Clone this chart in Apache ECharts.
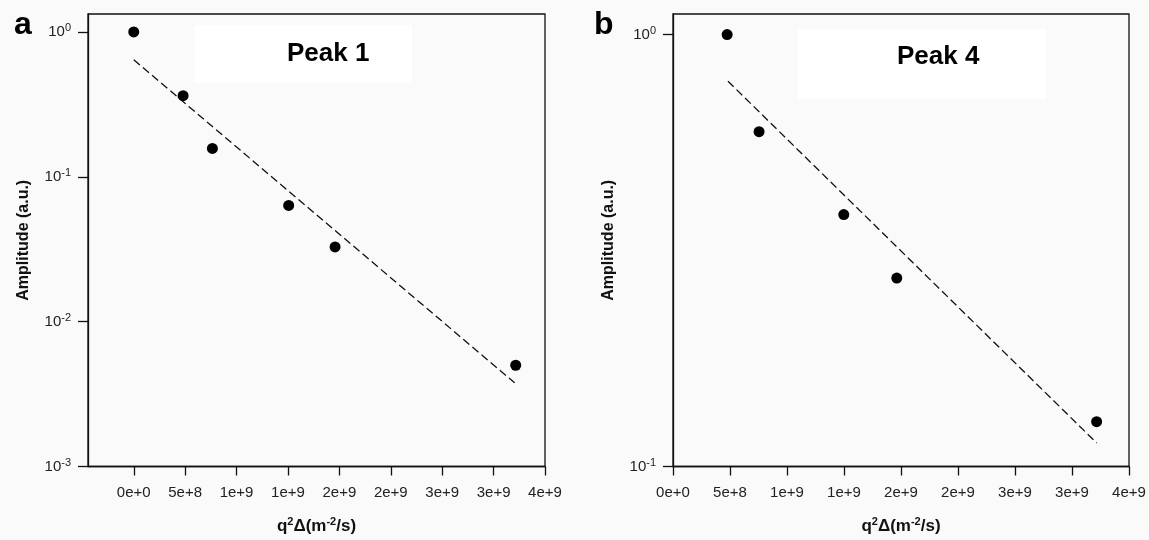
<!DOCTYPE html>
<html>
<head>
<meta charset="utf-8">
<script src="https://cdn.jsdelivr.net/npm/echarts@6/dist/echarts.min.js"></script>
<style>
  html, body { margin: 0; padding: 0; background: #fafafa; }
  #chart { width: 1149px; height: 540px; }
</style>
</head>
<body>
<div id="chart"></div>
<script>
// q^2*Delta values (m^-2/s)
var xPeak1 = [0, 4.8e8, 7.65e8, 1.507e9, 1.958e9, 3.715e9];
var ampPeak1 = [1.0, 0.363, 0.157, 0.0634, 0.0328, 0.0050];
var fitXPeak1 = [0, 3.705e9];
var fitPeak1 = [0.642, 0.00378];

var xPeak4 = [4.75e8, 7.55e8, 1.498e9, 1.963e9, 3.716e9];
var ampPeak4 = [1.0, 0.596, 0.383, 0.273, 0.127];
var fitXPeak4 = [4.82e8, 3.716e9];
var fitPeak4 = [0.78, 0.1134];

// axis ticks and their printed labels
var xTicks = [0, 5e8, 1e9, 1.5e9, 2e9, 2.5e9, 3e9, 3.5e9, 4e9];
var xTickLabels = ['0e+0', '5e+8', '1e+9', '1e+9', '2e+9', '2e+9', '3e+9', '3e+9', '4e+9'];
var yTicksA = [0.001, 0.01, 0.1, 1];
var yExpA = ['-3', '-2', '-1', '0'];
var yTicksB = [0.1, 1];
var yExpB = ['-1', '0'];

function pairs(xs, ys) {
    return xs.map(function (x, i) { return [x, ys[i]]; });
}

function xFormatter(v) {
    for (var i = 0; i < xTicks.length; i++) {
        if (Math.abs(xTicks[i] - v) < 1e3) return xTickLabels[i];
    }
    return '';
}

function yFormatter(ticks, exps) {
    return function (v) {
        for (var i = 0; i < ticks.length; i++) {
            if (Math.abs(Math.log10(ticks[i]) - Math.log10(v)) < 1e-6) {
                return '{b|10}{s|' + exps[i] + '}';
            }
        }
        return '';
    };
}

var font = 'Liberation Sans, Arial, sans-serif';
var supRich = {
    b: { fontSize: 15, color: '#222', fontFamily: font },
    s: { fontSize: 11, color: '#222', fontFamily: font, verticalAlign: 'bottom', padding: [0, 0, 7, 0] }
};
var nameRich = {
    n: { fontSize: 17, fontWeight: 'bold', color: '#111', fontFamily: font },
    u: { fontSize: 11, fontWeight: 'bold', color: '#111', fontFamily: font, verticalAlign: 'bottom', padding: [0, 0, 9, 0] }
};
var xName = '{n|q}{u|2}{n|\u0394(m}{u|-2}{n|/s)}';

function makeX(idx, min) {
    return {
        type: 'value',
        gridIndex: idx,
        min: min,
        max: 4e9,
        name: xName,
        nameLocation: 'middle',
        nameGap: 50,
        nameTextStyle: { rich: nameRich },
        axisLine: { show: true, onZero: false, lineStyle: { color: '#111', width: 1.3 } },
        axisTick: { show: true, length: 9, customValues: xTicks, lineStyle: { color: '#111', width: 1.3 } },
        axisLabel: {
            customValues: xTicks,
            formatter: xFormatter,
            fontSize: 15,
            color: '#222',
            fontFamily: font,
            margin: 19
        },
        splitLine: { show: false }
    };
}

function makeY(idx, min, max, ticks, exps) {
    return {
        type: 'log',
        logBase: 10,
        gridIndex: idx,
        min: min,
        max: max,
        name: 'Amplitude (a.u.)',
        nameLocation: 'middle',
        nameGap: 56,
        nameTextStyle: { fontSize: 16, fontWeight: 'bold', color: '#111', fontFamily: font },
        axisLine: { show: true, onZero: false, lineStyle: { color: '#111', width: 1.3 } },
        axisTick: { show: true, length: 10, customValues: ticks, lineStyle: { color: '#111', width: 1.3 } },
        axisLabel: {
            customValues: ticks,
            formatter: yFormatter(ticks, exps),
            rich: supRich,
            margin: 17
        },
        splitLine: { show: false }
    };
}

var dotStyle = { color: '#000', opacity: 1 };
var fitStyle = { color: '#111', width: 1.3, type: [8, 4] };

var option = {
    backgroundColor: '#fafafa',
    animation: false,
    title: [
        { text: 'a', left: 9, top: 4, textStyle: { fontSize: 32, fontWeight: 'bold', color: '#000', fontFamily: font } },
        { text: 'b', left: 589, top: 4, textStyle: { fontSize: 32, fontWeight: 'bold', color: '#000', fontFamily: font } },
        { text: 'Peak 1', left: 282, top: 36, textStyle: { fontSize: 26, fontWeight: 'bold', color: '#000', fontFamily: font } },
        { text: 'Peak 4', left: 892, top: 39, textStyle: { fontSize: 26, fontWeight: 'bold', color: '#000', fontFamily: font } }
    ],
    graphic: [
        { type: 'rect', shape: { x: 195, y: 25, width: 217, height: 58 }, style: { fill: '#ffffff' }, z: 1 },
        { type: 'rect', shape: { x: 798, y: 29, width: 248, height: 70 }, style: { fill: '#ffffff' }, z: 1 }
    ],
    grid: [
        { left: 88, top: 14, width: 457, height: 455, show: true, borderColor: '#111', borderWidth: 1.3, backgroundColor: 'transparent' },
        { left: 673, top: 14, width: 456, height: 455, show: true, borderColor: '#111', borderWidth: 1.3, backgroundColor: 'transparent' }
    ],
    xAxis: [makeX(0, -4.45e8), makeX(1, 0)],
    yAxis: [makeY(0, 0.001, 1.33, yTicksA, yExpA), makeY(1, 0.1, 1.116, yTicksB, yExpB)],
    series: [
        {
            type: 'line', xAxisIndex: 0, yAxisIndex: 0,
            data: pairs(fitXPeak1, fitPeak1),
            showSymbol: false, lineStyle: fitStyle, z: 3
        },
        {
            type: 'scatter', xAxisIndex: 0, yAxisIndex: 0,
            data: pairs(xPeak1, ampPeak1),
            symbolSize: 11, itemStyle: dotStyle, z: 4
        },
        {
            type: 'line', xAxisIndex: 1, yAxisIndex: 1,
            data: pairs(fitXPeak4, fitPeak4),
            showSymbol: false, lineStyle: fitStyle, z: 3
        },
        {
            type: 'scatter', xAxisIndex: 1, yAxisIndex: 1,
            data: pairs(xPeak4, ampPeak4),
            symbolSize: 11, itemStyle: dotStyle, z: 4
        }
    ]
};

var myChart = echarts.init(document.getElementById('chart'));
myChart.setOption(option);
</script>
</body>
</html>
